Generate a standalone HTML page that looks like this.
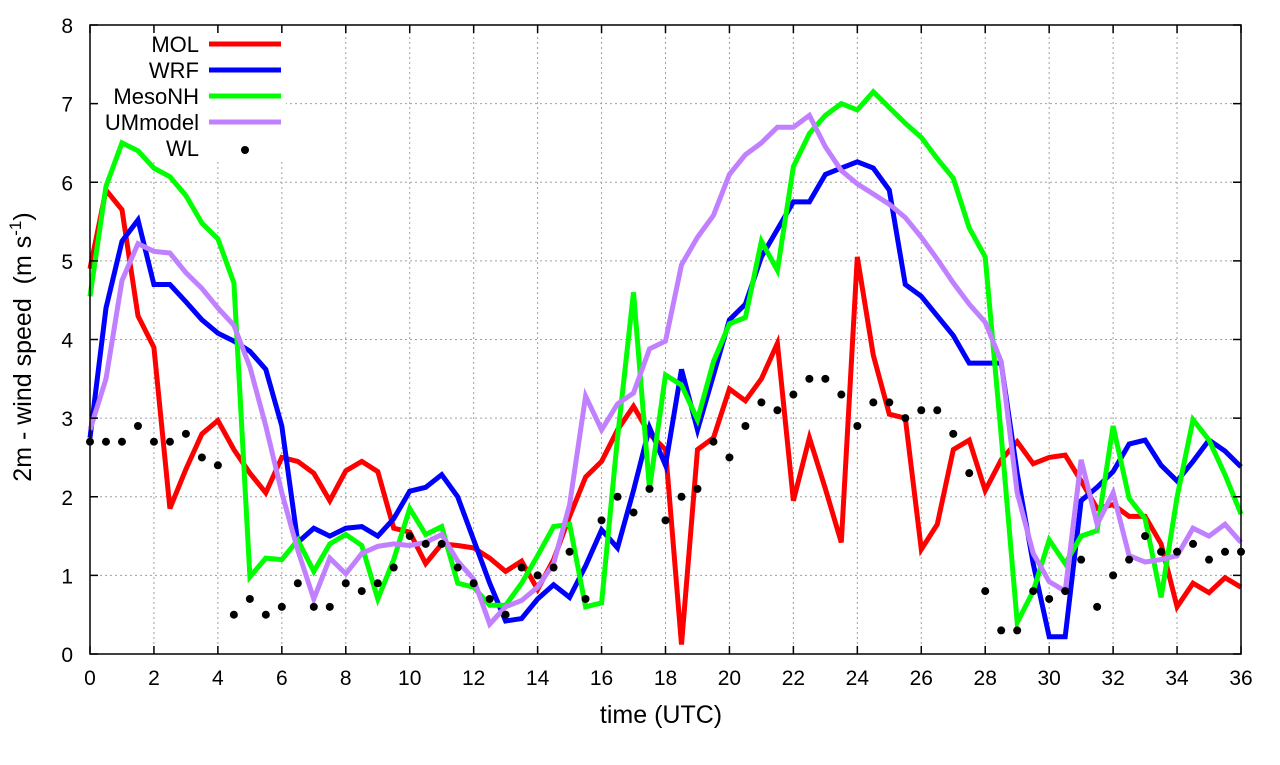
<!DOCTYPE html>
<html><head><meta charset="utf-8"><style>
body{margin:0;background:#fff;}
svg text{font-family:"Liberation Sans",sans-serif;fill:#000;}
</style></head><body>
<svg id="chart" width="1280" height="760" xmlns="http://www.w3.org/2000/svg">
<g id="grid"></g>
<rect x="86" y="28" width="200" height="132" fill="#fff"/>
<g id="series"></g>
<g id="legend"></g>
<rect x="90" y="25" width="1151" height="629" fill="none" stroke="#000" stroke-width="1.5"/>
<g id="axes"></g>
<text x="661" y="723" font-size="25" text-anchor="middle">time (UTC)</text>
<text transform="translate(31,347) rotate(-90)" font-size="25" text-anchor="middle" xml:space="preserve">2m - wind speed  (m s<tspan font-size="17" dy="-10">-1</tspan><tspan dy="10">)</tspan></text>
</svg>
<script>
const mol=[4.9,5.9,5.65,4.3,3.9,1.85,2.35,2.8,2.97,2.6,2.3,2.05,2.5,2.45,2.3,1.95,2.33,2.45,2.32,1.6,1.55,1.15,1.4,1.38,1.35,1.22,1.05,1.18,0.82,1.2,1.75,2.25,2.45,2.85,3.15,2.8,2.6,0.12,2.6,2.75,3.37,3.22,3.5,3.95,1.95,2.75,2.1,1.42,5.05,3.8,3.05,3.0,1.33,1.65,2.6,2.72,2.08,2.47,2.7,2.42,2.5,2.53,2.2,1.85,1.9,1.75,1.75,1.4,0.6,0.9,0.78,0.97,0.85];
const wrf=[2.75,4.4,5.25,5.52,4.7,4.7,4.48,4.25,4.08,3.98,3.85,3.62,2.9,1.42,1.6,1.5,1.6,1.62,1.5,1.72,2.07,2.12,2.28,2.0,1.45,0.9,0.42,0.45,0.7,0.88,0.72,1.12,1.58,1.35,2.08,2.88,2.4,3.62,2.85,3.55,4.25,4.45,5.05,5.4,5.75,5.75,6.1,6.18,6.26,6.18,5.9,4.7,4.55,4.3,4.05,3.7,3.7,3.7,2.3,1.15,0.22,0.22,1.95,2.12,2.32,2.67,2.72,2.4,2.2,2.45,2.72,2.58,2.38];
const mesonh=[4.55,5.95,6.5,6.4,6.18,6.07,5.83,5.48,5.28,4.72,0.98,1.22,1.2,1.45,1.05,1.4,1.52,1.38,0.7,1.2,1.85,1.52,1.62,0.9,0.85,0.62,0.62,0.9,1.25,1.62,1.65,0.6,0.65,2.75,4.6,2.1,3.55,3.42,2.98,3.72,4.2,4.28,5.25,4.88,6.2,6.62,6.85,7.0,6.92,7.15,6.95,6.75,6.57,6.3,6.05,5.42,5.05,2.78,0.4,0.8,1.45,1.15,1.5,1.57,2.9,1.98,1.72,0.72,2.0,2.98,2.72,2.28,1.78];
const ummodel=[2.85,3.5,4.75,5.22,5.12,5.1,4.85,4.65,4.4,4.18,3.65,2.9,2.05,1.32,0.7,1.22,1.02,1.28,1.37,1.4,1.38,1.42,1.52,1.18,0.95,0.38,0.6,0.68,0.85,1.15,1.9,3.28,2.85,3.18,3.32,3.88,3.98,4.95,5.3,5.58,6.1,6.35,6.5,6.7,6.7,6.85,6.45,6.15,5.98,5.85,5.72,5.55,5.3,5.02,4.72,4.45,4.22,3.72,2.05,1.28,0.92,0.8,2.47,1.65,2.05,1.25,1.17,1.2,1.25,1.6,1.5,1.65,1.42];
const wl=[2.7,2.7,2.7,2.9,2.7,2.7,2.8,2.5,2.4,0.5,0.7,0.5,0.6,0.9,0.6,0.6,0.9,0.8,0.9,1.1,1.5,1.4,1.4,1.1,0.9,0.7,0.5,1.1,1.0,1.1,1.3,0.7,1.7,2.0,1.8,2.1,1.7,2.0,2.1,2.7,2.5,2.9,3.2,3.1,3.3,3.5,3.5,3.3,2.9,3.2,3.2,3.0,3.1,3.1,2.8,2.3,0.8,0.3,0.3,0.8,0.7,0.8,1.2,0.6,1.0,1.2,1.5,1.3,1.3,1.4,1.2,1.3,1.3];
const xTicks=[0,2,4,6,8,10,12,14,16,18,20,22,24,26,28,30,32,34,36];
const yTicks=[0,1,2,3,4,5,6,7,8];
const seriesNames=["MOL","WRF","MesoNH","UMmodel"];
const timeStep=0.5;

const NS="http://www.w3.org/2000/svg";
const X0=90,X1=1241,Y0=654,Y1=25;
const xs=t=>X0+(t/36)*(X1-X0);
const ys=v=>Y0-(v/8)*(Y0-Y1);
function mk(tag,attrs,parent){const e=document.createElementNS(NS,tag);for(const k in attrs)e.setAttribute(k,attrs[k]);parent.appendChild(e);return e;}
const grid=document.getElementById('grid'),axes=document.getElementById('axes'),ser=document.getElementById('series'),leg=document.getElementById('legend');
xTicks.forEach(t=>{
  const x=xs(t);
  if(t>0&&t<36){const g=mk('line',{x1:x,x2:x,y1:Y0,y2:Y1,stroke:'#a0a0a0','stroke-width':1,'stroke-dasharray':'2,3'},grid);
  
  }
  const tk=mk('line',{x1:x,x2:x,y1:Y0,y2:Y0-8,stroke:'#000','stroke-width':1.5},axes);
  
  
  const tk2=mk('line',{x1:x,x2:x,y1:Y1,y2:Y1+8,stroke:'#000','stroke-width':1.5},axes);
  
  
  const lb=mk('text',{x:x,y:685,'font-size':21,'text-anchor':'middle'},axes);lb.textContent=t;
  
  
});
yTicks.forEach(v=>{
  const y=ys(v);
  if(v>0&&v<8){const g=mk('line',{x1:X0,x2:X1,y1:y,y2:y,stroke:'#a0a0a0','stroke-width':1,'stroke-dasharray':'2,3'},grid);
  
  }
  const tk=mk('line',{x1:X0,x2:X0+8,y1:y,y2:y,stroke:'#000','stroke-width':1.5},axes);
  
  
  const tk2=mk('line',{x1:X1,x2:X1-8,y1:y,y2:y,stroke:'#000','stroke-width':1.5},axes);
  
  
  const lb=mk('text',{x:73,y:y+8,'font-size':21,'text-anchor':'end'},axes);lb.textContent=v;
  
  
});
const allSeries=[mol,wrf,mesonh,ummodel];
const colors=['#ff0000','#0000ff','#00ff00','#c080ff'];
allSeries.forEach((arr,i)=>{
  const d=arr.map((v,j)=>(j?'L':'M')+xs(j*timeStep).toFixed(1)+','+ys(v).toFixed(1)).join('');
  const p=mk('path',{d:d,fill:'none',stroke:colors[i],'stroke-width':5,'stroke-linejoin':'miter'},ser);
  
  
});
wl.forEach((v,j)=>{
  const c=mk('circle',{cx:xs(j*timeStep),cy:ys(v),r:4,fill:'#000'},ser);
  
  
});
const legNames=seriesNames.concat(["WL"]);
legNames.forEach((n,i)=>{
  const y=44+i*26;
  const t=mk('text',{x:199,y:y+8,'font-size':22,'text-anchor':'end'},leg);t.textContent=n;
  
  
  if(i<4){const l=mk('line',{x1:209,x2:281,y1:y,y2:y,stroke:colors[i],'stroke-width':5},leg);
    
    }
  else{const c=mk('circle',{cx:245,cy:y+2,r:4,fill:'#000'},leg);
    
    }
});
</script>
</body></html>
